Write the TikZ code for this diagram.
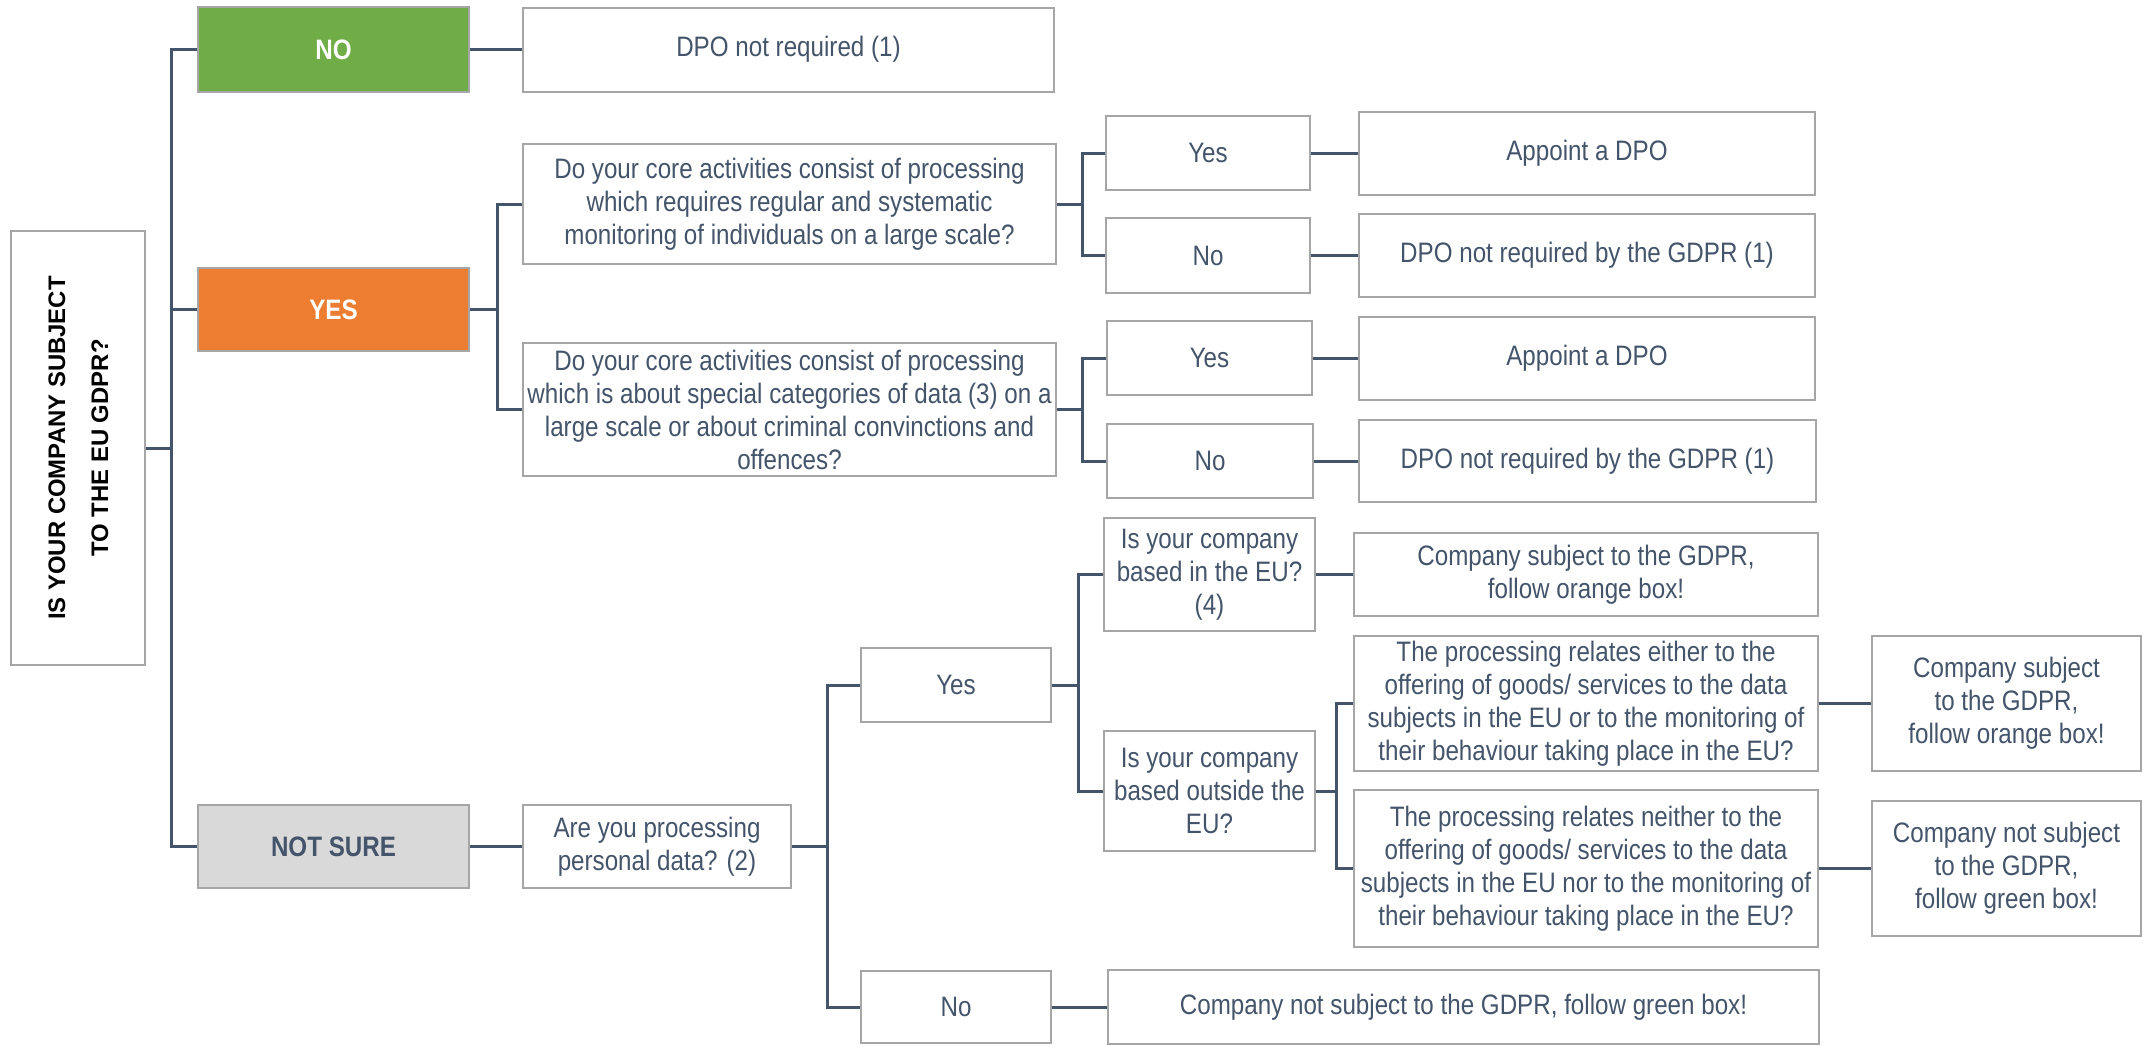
\documentclass[tikz,border=0pt]{standalone}
\usepackage{fontspec}
\setmainfont{Liberation Sans}[FakeStretch=0.86]
\newfontfamily\titlefont{Liberation Sans}
\usepackage{xcolor}
\definecolor{slate}{HTML}{44546A}
\definecolor{boxline}{HTML}{A6A6A6}
\definecolor{gdprgreen}{HTML}{70AD47}
\definecolor{gdprorange}{HTML}{ED7D31}
\definecolor{unsure}{HTML}{D9D9D9}
\tikzset{
	box/.style={draw=boxline, line width=0.2mm, fill=white, text=slate, align=center, inner sep=0pt,
			font=\fontsize{8}{9.4}\selectfont},
	answer/.style={box, font=\fontsize{8}{9.4}\selectfont\bfseries},
	dims/.style 2 args={minimum width=#1*0.1mm, minimum height=#2*0.1mm},
	link/.style={draw=slate, line width=0.3mm}
}

\begin{document}
\begin{tikzpicture}[x=0.1mm, y=-0.1mm]
        \useasboundingbox (0,0) rectangle (2145,1046);

        % Main question
        \node[box, dims={134}{434}, text=black] (title) at (78,448) {\rotatebox{90}{\titlefont\bfseries\fontsize{6.8}{12.2}\selectfont
                \begin{tabular}{@{}c@{}}IS YOUR COMPANY SUBJECT\\TO THE EU GDPR?\end{tabular}}};

        % Answers
        \node[answer, fill=gdprgreen, text=white, dims={271}{85}] (no) at (333.5,49.5) {NO};
        \node[answer, fill=gdprorange, text=white, dims={271}{83}] (yes) at (333.5,309.5) {YES};
        \node[answer, fill=unsure, dims={271}{83}] (notsure) at (333.5,846.5) {NOT SURE};

        % NO branch
        \node[box, dims={531}{84}] (dpono) at (788.5,49.5) {DPO not required (1)};

        % YES branch: core activities
        \node[box, dims={533}{120}] (qmon) at (789.5,204) {Do your core activities consist of processing\\which requires regular and systematic\\monitoring of individuals on a large scale?};
        \node[box, dims={533}{133}] (qspec) at (789.5,409.5) {Do your core activities consist of processing\\which is about special categories of data (3) on a\\large scale or about criminal convinctions and\\offences?};

        \node[box, dims={204}{74}] (yesmon) at (1208,153) {Yes};
        \node[box, dims={204}{75}] (nomon) at (1208,255.5) {No};
        \node[box, dims={456}{83}] (appointmon) at (1587,153) {Appoint a DPO};
        \node[box, dims={456}{83}] (dponomon) at (1587,255.5) {DPO not required by the GDPR (1)};

        \node[box, dims={205}{74}] (yesspec) at (1209.5,358) {Yes};
        \node[box, dims={206}{74}] (nospec) at (1210,461) {No};
        \node[box, dims={456}{83}] (appointspec) at (1587,358) {Appoint a DPO};
        \node[box, dims={457}{82}] (dponospec) at (1587.5,461) {DPO not required by the GDPR (1)};

        % NOT SURE branch
        \node[box, dims={268}{83}] (qpers) at (657,846.5) {Are you processing\\personal data? (2)};
        \node[box, dims={190}{74}] (yespers) at (956,685) {Yes};
        \node[box, dims={190}{72}] (nopers) at (956,1007) {No};
        \node[box, dims={711}{74}] (notsubj) at (1463.5,1007) {Company not subject to the GDPR, follow green box!};

        % Where is the company based
        \node[box, dims={211}{113}] (ineu) at (1209.5,574.5) {Is your company\\based in the EU?\\(4)};
        \node[box, dims={464}{83}] (subjin) at (1586,574.5) {Company subject to the GDPR,\\follow orange box!};
        \node[box, dims={211}{120}] (outeu) at (1209.5,791) {Is your company\\based outside the\\EU?};

        % Territorial scope
        \node[box, dims={464}{135}] (either) at (1586,703.5) {The processing relates either to the\\offering of goods/ services to the data\\subjects in the EU or to the monitoring of\\their behaviour taking place in the EU?};
        \node[box, dims={464}{157}] (neither) at (1586,868.5) {The processing relates neither to the\\offering of goods/ services to the data\\subjects in the EU nor to the monitoring of\\their behaviour taking place in the EU?};
        \node[box, dims={269}{135}] (subjout) at (2006.5,703.5) {Company subject\\to the GDPR,\\follow orange box!};
        \node[box, dims={269}{135}] (notsubjout) at (2006.5,868.5) {Company not subject\\to the GDPR,\\follow green box!};

        % Connectors
        \draw[link] (title.east) -- ++(25,0) |- (no.west);
        \draw[link] (title.east) -- ++(25,0) |- (yes.west);
        \draw[link] (title.east) -- ++(25,0) |- (notsure.west);
        \draw[link] (no) -- (dpono);

        \draw[link] (yes.east) -- ++(27,0) |- (qmon.west);
        \draw[link] (yes.east) -- ++(27,0) |- (qspec.west);
        \draw[link] (qmon.east) -- ++(25,0) |- (yesmon.west);
        \draw[link] (qmon.east) -- ++(25,0) |- (nomon.west);
        \draw[link] (qspec.east) -- ++(25,0) |- (yesspec.west);
        \draw[link] (qspec.east) -- ++(25,0) |- (nospec.west);
        \draw[link] (yesmon) -- (appointmon);
        \draw[link] (nomon) -- (dponomon);
        \draw[link] (yesspec) -- (appointspec);
        \draw[link] (nospec) -- (dponospec);

        \draw[link] (notsure) -- (qpers);
        \draw[link] (qpers.east) -- ++(35,0) |- (yespers.west);
        \draw[link] (qpers.east) -- ++(35,0) |- (nopers.west);
        \draw[link] (nopers) -- (notsubj);
        \draw[link] (yespers.east) -- ++(26,0) |- (ineu.west);
        \draw[link] (yespers.east) -- ++(26,0) |- (outeu.west);
        \draw[link] (ineu) -- (subjin);
        \draw[link] (outeu.east) -- ++(20,0) |- (either.west);
        \draw[link] (outeu.east) -- ++(20,0) |- (neither.west);
        \draw[link] (either) -- (subjout);
        \draw[link] (neither) -- (notsubjout);
    \end{tikzpicture}
\end{document}
